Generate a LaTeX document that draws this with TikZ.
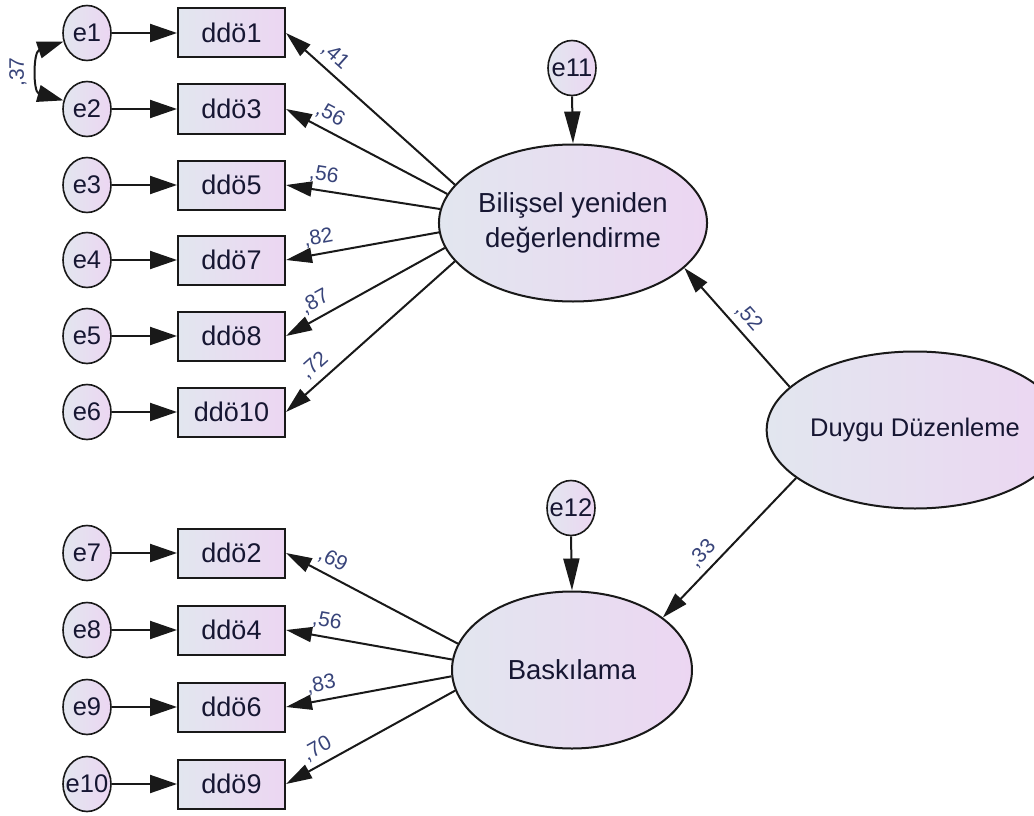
\documentclass[tikz,border=0pt]{standalone}
\usepackage{fontspec}
\setmainfont{Liberation Sans}
\usetikzlibrary{shapes.geometric,arrows.meta}

\definecolor{shadeL}{RGB}{226,230,239}
\definecolor{shadeR}{RGB}{236,214,242}
\definecolor{edge}{RGB}{25,25,25}
\definecolor{txt}{RGB}{22,22,50}
\definecolor{coefc}{RGB}{56,68,122}

% zero-width box so the error circles keep a fixed size
\newcommand{\zw}[1]{\makebox[0pt][c]{#1}}

\tikzset{
  gfill/.style={left color=shadeL, right color=shadeR},
  obs/.style={draw=edge, line width=2pt, gfill, rectangle,
    minimum width=107pt, minimum height=49pt, inner sep=0pt,
    font=\fontsize{27}{29}\selectfont, text=txt},
  err/.style={draw=edge, line width=1.6pt, gfill, ellipse,
    minimum width=48pt, minimum height=55pt, inner sep=0pt,
    font=\fontsize{25.5}{27}\selectfont, text=txt},
  lat/.style={draw=edge, line width=2pt, gfill, ellipse,
    minimum width=240pt, minimum height=157pt, inner sep=0pt,
    align=center, font=\fontsize{27.5}{35}\selectfont, text=txt},
  arr/.style={line width=2pt, draw=edge, -{Triangle[length=26pt,width=15pt]}},
  harr/.style={line width=2pt, draw=edge, -{Triangle[length=27pt,width=18pt]}},
  varr/.style={line width=2pt, draw=edge, -{Triangle[length=32pt,width=16pt]}},
  cov/.style={line width=2pt, draw=edge,
    {Triangle[length=26pt,width=17pt]}-{Triangle[length=26pt,width=17pt]}},
  coef/.style={sloped, above, pos=0.77, inner sep=6pt,
    font=\fontsize{21}{21}\selectfont, text=coefc},
}

\begin{document}
\begin{tikzpicture}[x=1pt, y=1pt]
\useasboundingbox[fill=white] (0,0) rectangle (1034,-816);

% latent variables
\node[lat] (bil) at (573,-223) {Bilişsel yeniden\\değerlendirme};
\node[lat] (bask) at (572,-670) {Baskılama};
\node[lat, minimum width=236pt, font=\fontsize{25.5}{30}\selectfont] (duy) at (915,-430) {Duygu Düzenleme};

% residual terms of the latent variables
\node[err] (e11) at (572,-68) {\zw{e11}};
\node[err] (e12) at (571,-508) {\zw{e12}};

% indicators of the first factor
\node[obs] (o1)  at (231.5,-33)  {ddö1};
\node[obs] (o3)  at (231.5,-109) {ddö3};
\node[obs] (o5)  at (231.5,-185) {ddö5};
\node[obs] (o7)  at (231.5,-260) {ddö7};
\node[obs] (o8)  at (231.5,-336) {ddö8};
\node[obs] (o10) at (231.5,-412) {ddö10};

% indicators of the second factor
\node[obs] (o2) at (231.5,-553) {ddö2};
\node[obs] (o4) at (231.5,-630) {ddö4};
\node[obs] (o6) at (231.5,-707) {ddö6};
\node[obs] (o9) at (231.5,-784) {ddö9};

% measurement errors
\node[err] (e1)  at (87,-33)  {\zw{e1}};
\node[err] (e2)  at (87,-109) {\zw{e2}};
\node[err] (e3)  at (87,-185) {\zw{e3}};
\node[err] (e4)  at (87,-260) {\zw{e4}};
\node[err] (e5)  at (87,-336) {\zw{e5}};
\node[err] (e6)  at (87,-412) {\zw{e6}};
\node[err] (e7)  at (87,-553) {\zw{e7}};
\node[err] (e8)  at (87,-630) {\zw{e8}};
\node[err] (e9)  at (87,-707) {\zw{e9}};
\node[err] (e10) at (87,-784) {\zw{e10}};

% error -> indicator
\foreach \e/\o in {e1/o1,e2/o3,e3/o5,e4/o7,e5/o8,e6/o10,e7/o2,e8/o4,e9/o6,e10/o9}
  \draw[harr] (\e.east) -- (\o.west);

% correlated errors
\draw[cov] (e1.200) .. controls (33,-52) and (33,-92) .. (e2.160);
\node[rotate=90, font=\fontsize{21}{21}\selectfont, text=coefc] (r12) at (18,-72) {,37};

% disturbances
\draw[varr] (e11.south) -- (bil.north);
\draw[varr] (e12.south) -- (bask.north);

% loadings, first factor
\draw[arr] (bil.162) -- (o1.east)  node[coef] {,41};
\draw[arr] (bil.167) -- (o3.east)  node[coef] {,56};
\draw[arr] (bil.174) -- (o5.east)  node[coef] {,56};
\draw[arr] (bil.184) -- (o7.east)  node[coef] {,82};
\draw[arr] (bil.191) -- (o8.east)  node[coef] {,87};
\draw[arr] (bil.198) -- (o10.east) node[coef] {,72};

% loadings, second factor
\draw[arr] (bask.167) -- (o2.east) node[coef] {,69};
\draw[arr] (bask.175) -- (o4.east) node[coef] {,56};
\draw[arr] (bask.183) -- (o6.east) node[coef] {,83};
\draw[arr] (bask.190) -- (o9.east) node[coef] {,70};

% second-order paths
\draw[arr] (duy.161) -- (bil.338)  node[coef, pos=0.5] {,52};
\draw[arr] (duy.202) -- (bask.30)  node[coef, pos=0.62] {,33};
\end{tikzpicture}
\end{document}
